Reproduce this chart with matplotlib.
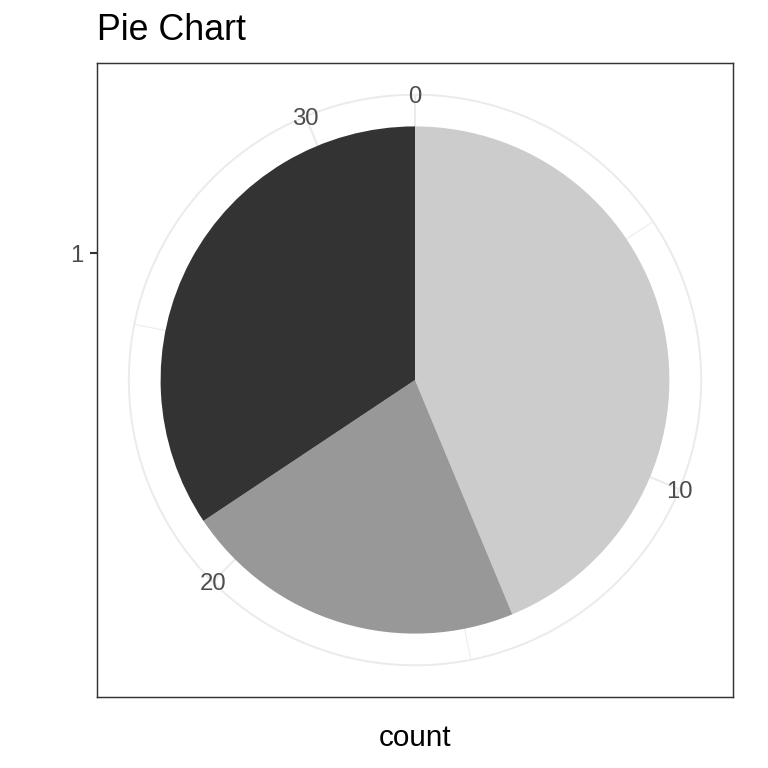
import numpy as np
import matplotlib
matplotlib.use("Agg")
import matplotlib.pyplot as plt

plt.rcParams["font.family"] = ["Liberation Sans", "DejaVu Sans"]

# stacked counts, clockwise from 12 o'clock (last factor level sits at the top)
categories = ["c", "b", "a"]
counts = [14, 7, 11]
fills = ["#CCCCCC", "#989898", "#333333"]

theta_major = [0, 10, 20, 30]
theta_minor = [5, 15, 25]
r_breaks = [1]
r_labels = ["1"]

BAR_X, BAR_W = 1, 0.9
total = sum(counts)
r_lo, r_hi = BAR_X - BAR_W / 2, BAR_X + BAR_W / 2


def r_scale(x):
    # ggplot coord_polar: r mapped onto [0, 0.4] of the panel
    return (x - r_lo) / (r_hi - r_lo) * 0.4


def theta_xy(v, r):
    a = 2 * np.pi * v / total
    return r * np.sin(a), r * np.cos(a)


GRID = "#EBEBEB"
LW = 0.7
GLW = 0.95
TXT = 1.3  # text scale relative to ggplot's 11pt base

fig = plt.figure(figsize=(5.12, 5.12), dpi=150)
ax = fig.add_axes([97 / 768, 71 / 768, 636 / 768, 634 / 768])

# outer theta circle
t = np.linspace(0, 2 * np.pi, 400)
ax.plot(0.45 * np.cos(t), 0.45 * np.sin(t), color=GRID, lw=GLW, zorder=1)
# theta gridlines
for v in theta_minor:
    x, y = theta_xy(v, 0.45)
    ax.plot([0, x], [0, y], color=GRID, lw=GLW / 2, zorder=1)
for v in theta_major:
    x, y = theta_xy(v, 0.45)
    ax.plot([0, x], [0, y], color=GRID, lw=GLW, zorder=1)

ax.pie(counts, colors=fills, startangle=90, counterclock=False,
       radius=r_scale(r_hi), center=(0, 0), frame=True,
       wedgeprops=dict(linewidth=0, zorder=2))

for v in theta_major:
    x, y = theta_xy(v, 0.45)
    ax.text(x, y, str(v), ha="center", va="center_baseline",
            fontsize=8.8 * TXT, color="#4D4D4D", zorder=3)

ax.set_aspect("auto")
ax.set_xlim(-0.5, 0.5)
ax.set_ylim(-0.5, 0.5)
ax.set_xticks([])
ax.set_yticks([r_scale(b) for b in r_breaks])
ax.set_yticklabels(r_labels)
ax.tick_params(axis="y", length=3.4, width=1.0, color="#333333",
               labelsize=8.8 * TXT, labelcolor="#4D4D4D", pad=3.0)
for s in ax.spines.values():
    s.set_color("#333333")
    s.set_linewidth(LW)

fig.text(97 / 768, 1 - 40 / 768, "Pie Chart", fontsize=13.2 * TXT,
         color="black", ha="left", va="baseline")
fig.text(415 / 768, 1 - 746 / 768, "count", fontsize=11 * TXT, color="black",
         ha="center", va="baseline")

fig.savefig("out.png", dpi=150, facecolor="white")
